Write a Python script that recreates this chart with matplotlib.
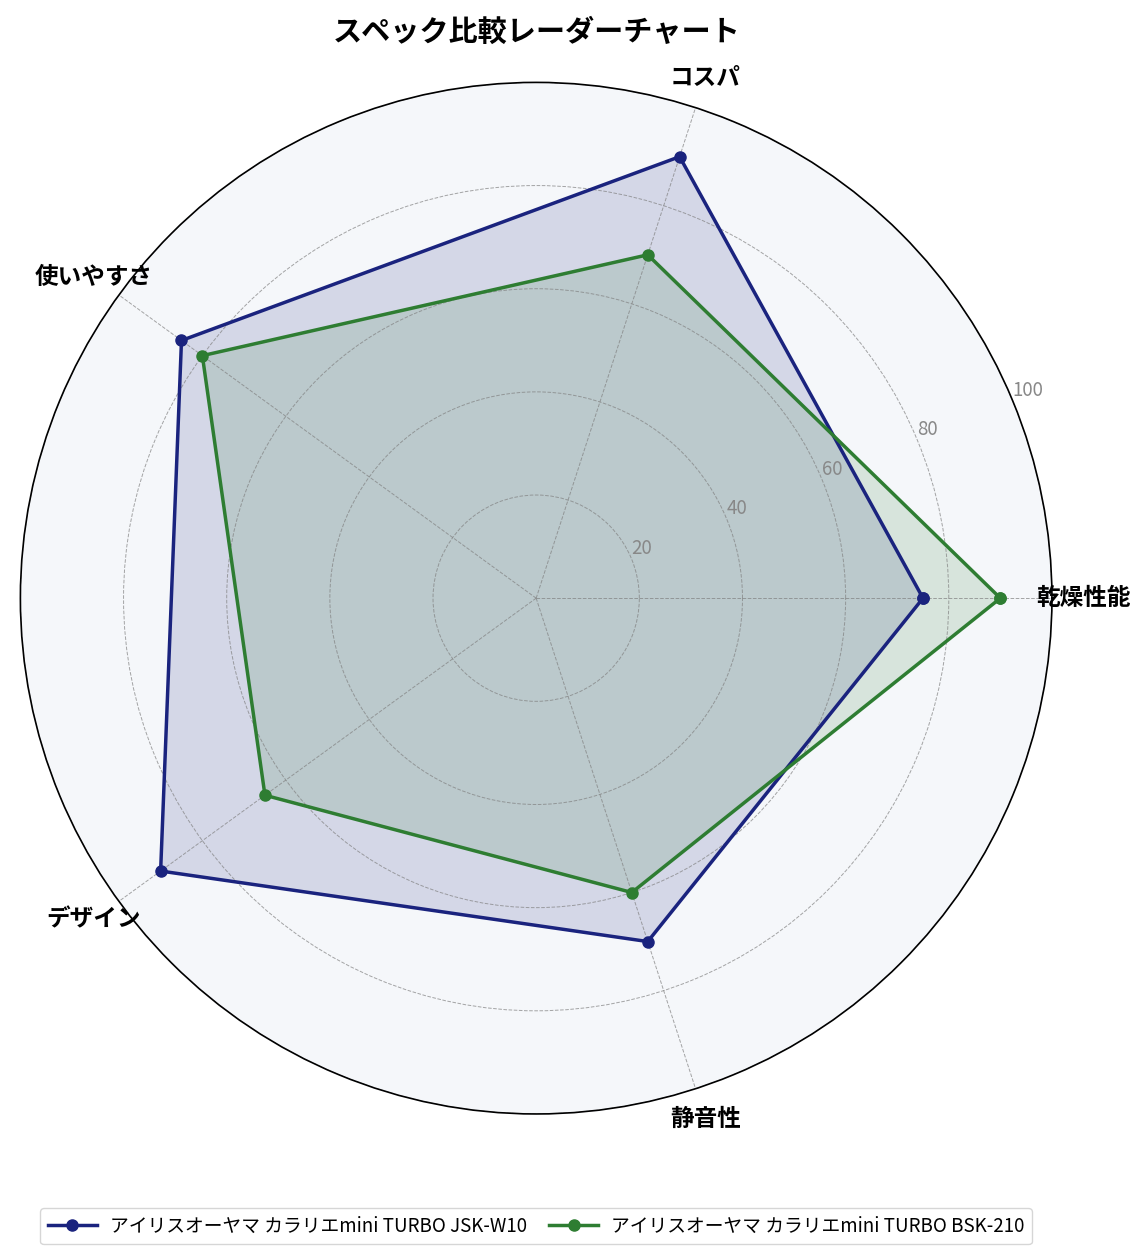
import numpy as np
import matplotlib
matplotlib.use('Agg')
import matplotlib.pyplot as plt

plt.rcParams['font.family'] = ['Noto Sans CJK JP', 'DejaVu Sans']

# Data
categories = ['乾燥性能', 'コスパ', '使いやすさ', 'デザイン', '静音性']
model_a_name = 'アイリスオーヤマ カラリエmini TURBO JSK-W10'
model_b_name = 'アイリスオーヤマ カラリエmini TURBO BSK-210'
model_a_scores = [75, 90, 85, 90, 70]
model_b_scores = [90, 70, 80, 65, 60]
r_ticks = [20, 40, 60, 80, 100]

n = len(categories)
angles = np.linspace(0, 2 * np.pi, n, endpoint=False).tolist()
angles_closed = angles + angles[:1]

fig = plt.figure(figsize=(11.42, 12.58), dpi=100)
ax = fig.add_axes([0.0175, 0.1145, 0.904, 0.820], projection='polar')
ax.set_facecolor('#f5f7fa')

series = [
    (model_a_scores, model_a_name, '#1a237e'),
    (model_b_scores, model_b_name, '#2e7d32'),
]
for vals, name, col in series:
    v = vals + vals[:1]
    ax.plot(angles_closed, v, color=col, linewidth=2.5, marker='o', markersize=8, label=name)
    ax.fill(angles_closed, v, color=col, alpha=0.15)

ax.set_ylim(0, 100)
ax.set_xticks(angles)
ax.set_xticklabels(categories, fontsize=17, fontweight='bold')
ax.tick_params(axis='x', pad=12)
ax.set_yticks(r_ticks)
ax.set_yticklabels([str(t) for t in r_ticks], fontsize=13.5, color='#888888')
ax.set_rlabel_position(22.5)
ax.grid(True, color='gray', linestyle='--', linewidth=0.7, alpha=0.7)
ax.spines['polar'].set_color('black')
ax.spines['polar'].set_linewidth(1.2)

ax.set_title('スペック比較レーダーチャート', fontsize=21, fontweight='bold', pad=30)

ax.legend(loc='center', bbox_to_anchor=(0.5, -0.109), ncol=2, fontsize=13.5,
          frameon=True, edgecolor='#cccccc', handlelength=2.6, columnspacing=1.2,
          handletextpad=0.7)

fig.savefig('out.png', dpi=100)
